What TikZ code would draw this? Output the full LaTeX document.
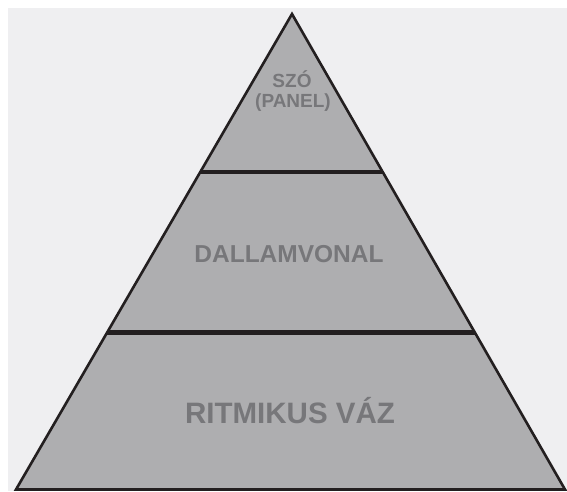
\documentclass[tikz,border=0pt]{standalone}
\usepackage{fontspec}
\setmainfont{Liberation Sans}
\usetikzlibrary{calc}
\definecolor{bgc}{HTML}{EFEFF1}
\definecolor{fillc}{HTML}{AEAEB0}
\definecolor{txtc}{HTML}{77777A}
\definecolor{linec}{HTML}{231F20}
\tikzset{
  lbl/.style={text=txtc, inner sep=0pt, anchor=base},
  divider/.style={draw=linec, line width=4.5pt},
}
\begin{document}
\begin{tikzpicture}[x=1pt,y=1pt]
\useasboundingbox (0,0) rectangle (567,491);
\fill[bgc] (8,0) rectangle (567,483);
\coordinate (apex) at (292,477);
\coordinate (bl) at (16,1.5);
\coordinate (br) at (565,1.5);
\draw[fill=fillc, draw=linec, line width=2.6pt, line join=miter] (apex) -- (bl) -- (br) -- cycle;
\coordinate (d1l) at ($(apex)!0.332!(bl)$);
\coordinate (d1r) at ($(apex)!0.332!(br)$);
\coordinate (d2l) at ($(apex)!0.670!(bl)$);
\coordinate (d2r) at ($(apex)!0.670!(br)$);
\draw[divider] (d1l) -- (d1r);
\draw[divider] (d2l) -- (d2r);
\node[lbl, font=\bfseries\fontsize{19}{22}\selectfont] (top1) at (292,403) {SZÓ};
\node[lbl, font=\bfseries\fontsize{19}{22}\selectfont] (top2) at (293,383) {(PANEL)};
\node[lbl, font=\bfseries\fontsize{24.5}{28}\selectfont] (mid) at (289,229) {DALLAMVONAL};
\node[lbl, font=\bfseries\fontsize{29.5}{34}\selectfont] (bot) at (290,68) {RITMIKUS VÁZ};
\end{tikzpicture}
\end{document}
